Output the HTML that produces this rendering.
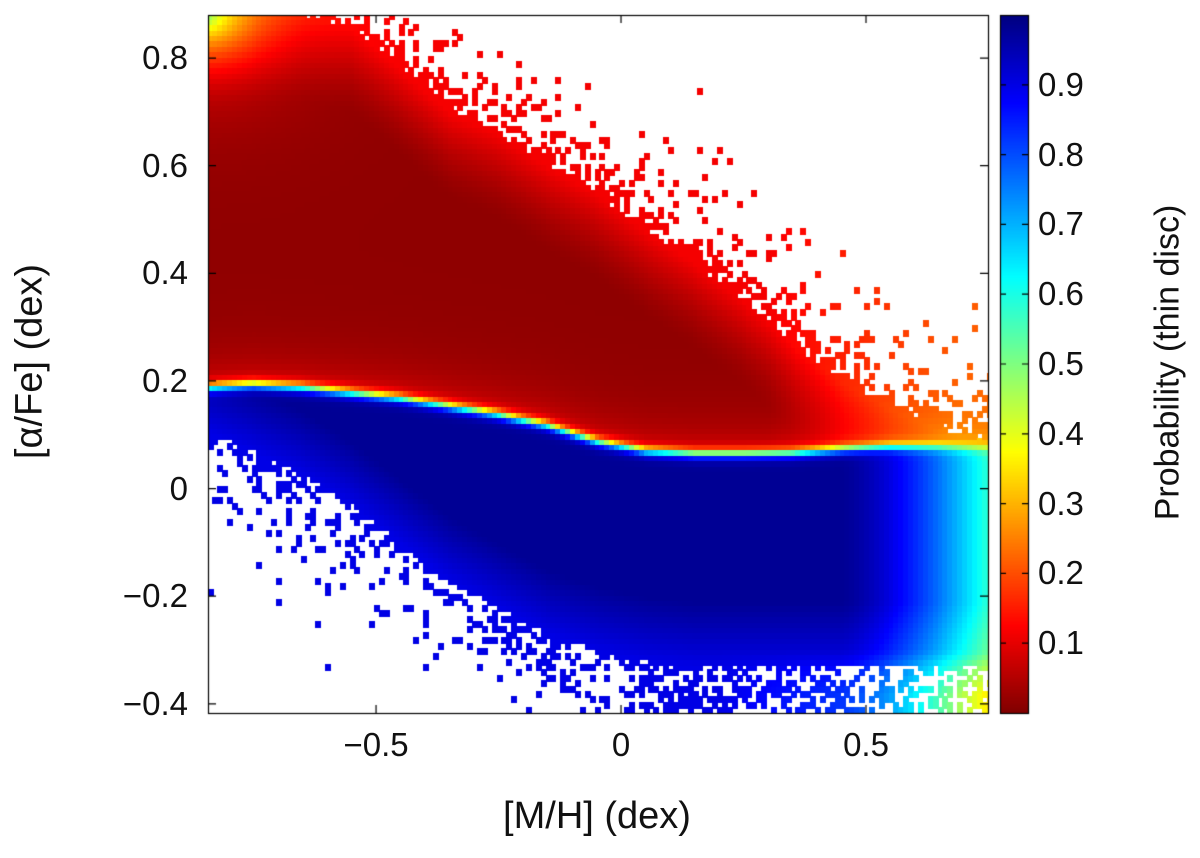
<!DOCTYPE html>
<html><head><meta charset="utf-8"><style>
html,body{margin:0;padding:0;background:#fff;}
body{width:1200px;height:858px;position:relative;overflow:hidden;font-family:"Liberation Sans","DejaVu Sans",sans-serif;color:#111;}
.t{position:absolute;font-size:33px;}
</style></head><body>
<canvas id="plot" width="1200" height="858" style="position:absolute;left:0;top:0"></canvas>
<div id="labels"></div>
<script>
// ---- data ----
const mhGrid = [-0.85,-0.75,-0.65,-0.55,-0.45,-0.35,-0.25,-0.15,-0.05,0.05,0.15,0.25,0.35,0.45,0.55,0.65,0.75];
const boundaryAlpha = [0.19,0.195,0.19,0.18,0.17,0.155,0.14,0.12,0.09,0.072,0.067,0.067,0.068,0.075,0.08,0.08,0.077];
const topAlpha = [0.88,0.88,0.88,0.86,0.78,0.70,0.66,0.60,0.55,0.48,0.42,0.35,0.27,0.20,0.15,0.11,0.08];
const bottomAlpha = [0.11,0.07,0.026,-0.03,-0.10,-0.17,-0.22,-0.27,-0.30,-0.32,-0.33,-0.33,-0.33,-0.33,-0.33,-0.33,-0.33];
const xTicks = [-0.5,0,0.5];
const xTickLabels = ["\u22120.5","0","0.5"];
const yTicks = [-0.4,-0.2,0,0.2,0.4,0.6,0.8];
const yTickLabels = ["\u22120.4","\u22120.2","0","0.2","0.4","0.6","0.8"];
const cbTicks = [0.1,0.2,0.3,0.4,0.5,0.6,0.7,0.8,0.9];

const X0=208,X1=988,Y0=15,Y1=713;
const xMin=-0.843,xMax=0.749,yMin=-0.417,yMax=0.88;
const sx=v=>X0+(v-xMin)/(xMax-xMin)*(X1-X0);
const sy=v=>Y1-(v-yMin)/(yMax-yMin)*(Y1-Y0);
function interp(arr,x){
  if(x<=mhGrid[0])return arr[0];
  for(let i=0;i<mhGrid.length-1;i++){if(x<=mhGrid[i+1]){const t=(x-mhGrid[i])/(mhGrid[i+1]-mhGrid[i]);return arr[i]+t*(arr[i+1]-arr[i]);}}
  return arr[arr.length-1];
}
const cl=v=>Math.max(0,Math.min(1,v));
function jet(p){const t=1-p;return [cl(1.5-Math.abs(4*t-3)),cl(1.5-Math.abs(4*t-2)),cl(1.5-Math.abs(4*t-1))].map(v=>Math.round(v*255));}
function hash(i,j){let h=i*374761393+j*668265263;h=(h^(h>>>13))*1274126177;h=h^(h>>>16);return ((h>>>0)%10000)/10000;}

const c=document.getElementById('plot').getContext('2d');
const step=0.01;
for(let i=0;i*step+xMin<xMax;i++){
  const x=xMin+i*step+step/2;
  const b=interp(boundaryAlpha,x),tp=interp(topAlpha,x),bt=interp(bottomAlpha,x);
  for(let j=0;j*step+yMin<yMax;j++){
    const y=yMin+j*step+step/2;
    let show=true;
    if(y>tp){const d=y-tp;show=hash(i,j)<0.7*Math.exp(-d/0.06);}
    else if(y<bt){const d=bt-y;show=hash(i,j+999)<0.5*Math.exp(-d/0.07)+(y<-0.37&&x>0.0?0.3:0);}
    if(!show)continue;
    const d=y-b;
    let pRed=0.015+0.08*Math.exp(-Math.max(d,0)/0.05)+0.1*Math.pow(cl(1-(tp-y)/0.16),1.5)+0.1*cl((x-0.3)/0.4);
    const dc=Math.hypot((x+0.85)/1.3,(y-0.88));
    pRed+=0.4*Math.exp(-dc/0.07);
    let pBlue=0.98-0.4*Math.pow(cl((x-0.45)/0.3),1.5)-0.08*cl(1-(y-bt)/0.12)-0.15*cl((-0.3-y)/0.08)*cl((x-0.2)/0.5);
    const s=1/(1+Math.exp(d/0.005));
    const p=cl(pRed+(pBlue-pRed)*s);
    const [r,g,bb]=jet(p);
    c.fillStyle=`rgb(${r},${g},${bb})`;
    const px=sx(x-step/2),py=sy(y+step/2);
    c.fillRect(Math.floor(px),Math.floor(py),Math.ceil(sx(x+step/2)-px)+1,Math.ceil(sy(y-step/2)-py)+1);
  }
}
c.fillStyle='#fff';c.fillRect(0,0,X0,858);c.fillRect(X1,0,300,858);c.fillRect(0,0,1200,Y0);c.fillRect(0,Y1,1200,200);
const CB0=1000,CB1=1028;
for(let py=Y0;py<Y1;py++){const p=(Y1-py)/(Y1-Y0);const [r,g,bb]=jet(p);c.fillStyle=`rgb(${r},${g},${bb})`;c.fillRect(CB0,py,CB1-CB0,1);}
c.strokeStyle='#000';c.lineWidth=1.2;
c.strokeRect(X0+0.5,Y0+0.5,X1-X0,Y1-Y0);
c.strokeRect(CB0+0.5,Y0+0.5,CB1-CB0,Y1-Y0);
const L=document.getElementById('labels');
function lab(txt,x,y,name,extra){const d=document.createElement('div');d.className='t';d.textContent=txt;d.style.left=x+'px';d.style.top=y+'px';if(extra)Object.assign(d.style,extra);


L.appendChild(d);return d;}
xTicks.forEach((v,k)=>{const px=sx(v);c.beginPath();c.moveTo(px,Y1);c.lineTo(px,Y1-8);c.moveTo(px,Y0);c.lineTo(px,Y0+8);c.stroke();
lab(xTickLabels[k],px-100,726,'x-tick-label',{width:'200px',textAlign:'center'});});
yTicks.forEach((v,k)=>{const py=sy(v);c.beginPath();c.moveTo(X0,py);c.lineTo(X0+8,py);c.moveTo(X1,py);c.lineTo(X1-8,py);c.stroke();
lab(yTickLabels[k],20,py-19,'y-tick-label',{width:'168px',textAlign:'right'});});
cbTicks.forEach(v=>{const py=Y1-v*(Y1-Y0);c.beginPath();c.moveTo(CB0,py);c.lineTo(CB0+6,py);c.moveTo(CB1,py);c.lineTo(CB1-6,py);c.stroke();
lab(v.toFixed(1),1038,py-19,'colorbar-tick-label');});
lab('[M/H] (dex)',397,795,'x-axis-title',{width:'400px',textAlign:'center',fontSize:'38px'});
lab('[\u03b1/Fe] (dex)',-170,340,'y-axis-title',{width:'400px',textAlign:'center',fontSize:'38px',transform:'rotate(-90deg)'});
lab('Probability (thin disc)',968,343,'colorbar-title',{width:'400px',textAlign:'center',fontSize:'34px',transform:'rotate(-90deg)'});
</script>
</body></html>
